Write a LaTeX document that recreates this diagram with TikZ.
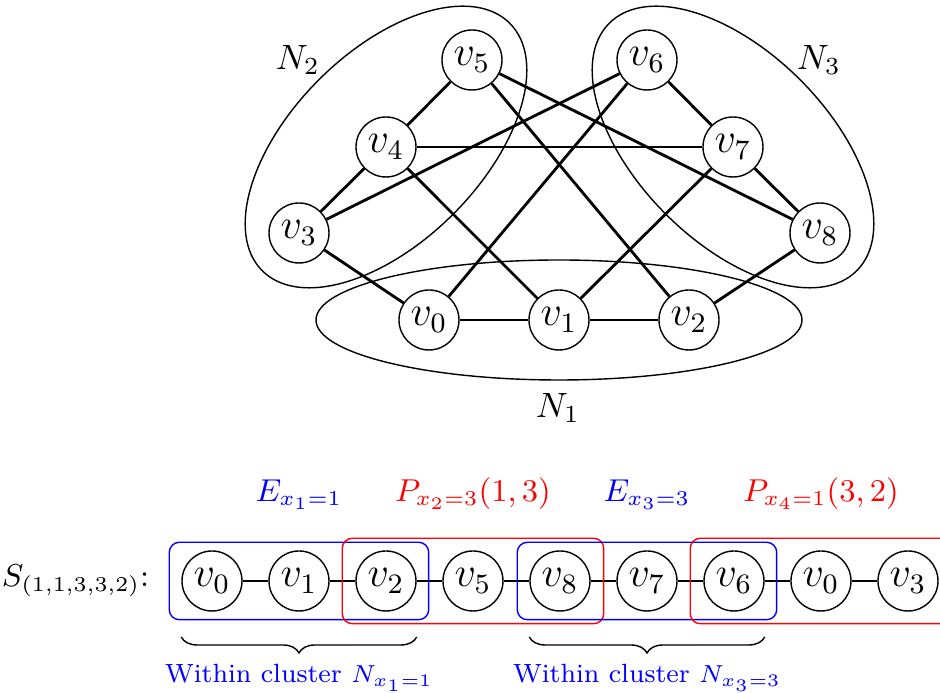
\documentclass[tikz,border=0pt]{standalone}
\usepackage{xcolor}
\usepackage{tikz}
\usetikzlibrary{positioning,fit,calc,decorations.pathreplacing}

\begin{document}
\begin{tikzpicture}[x=1cm,y=1cm,
  vtx/.style={circle,draw,minimum size=0.6cm,inner sep=0pt,font=\large},
  edge/.style={thick},
  ebox/.style={draw=blue,rounded corners=1mm,inner xsep=0.12cm,inner ysep=0.08cm},
  pbox/.style={draw=red,rounded corners=1mm,inner xsep=0.13cm,inner ysep=0.12cm},
  lbl/.style={anchor=base,font=\fontsize{9}{11}\selectfont},
  within/.style={anchor=base,text=blue,font=\fontsize{7.5}{9}\selectfont}]
\useasboundingbox (0,0) rectangle (9.4,6.93);
\clip (0,0) rectangle (9.4,6.93);

\node[vtx] (v0) at (4.29,3.73) {$v_0$};
\node[vtx] (v1) at (5.59,3.73) {$v_1$};
\node[vtx] (v2) at (6.89,3.73) {$v_2$};
\node[vtx] (v3) at (2.99,4.60) {$v_3$};
\node[vtx] (v4) at (3.86,5.46) {$v_4$};
\node[vtx] (v5) at (4.72,6.33) {$v_5$};
\node[vtx] (v6) at (6.47,6.33) {$v_6$};
\node[vtx] (v7) at (7.33,5.46) {$v_7$};
\node[vtx] (v8) at (8.20,4.60) {$v_8$};
\foreach \a/\b in {5/4,4/3,3/0,0/1,1/2,2/8,8/7,7/6,4/7,4/1,5/2,5/8,3/6,0/6,1/7}
  \draw[edge] (v\a) -- (v\b);

\draw (v1.center) ellipse (2.43 and 0.60);
\draw[rotate around={45:(v4)}] (v4.center) ellipse (1.75 and 0.95);
\draw[rotate around={-45:(v7)}] (v7.center) ellipse (1.75 and 0.95);
\node (n1) at (5.58,2.85) {$N_1$};
\node (n2) at (2.98,6.33) {$N_2$};
\node (n3) at (8.19,6.33) {$N_3$};

\foreach \v [count=\i from 0] in {0,1,2,5,8,7,6,0,3}
  \node[vtx] (s\i) at (2.12+0.87*\i,1.12) {$v_{\v}$};
\foreach \i [evaluate=\i as \j using int(\i+1)] in {0,...,7}
  \draw[edge] (s\i) -- (s\j);
\node[lbl,anchor=base east,inner sep=0pt] (seq) at (1.50,1.06) {$S_{(1,1,3,3,2)}$:};

\node[ebox,fit=(s0)(s2)] (e1) {};
\node[pbox,fit=(s2)(s4)] (p1) {};
\node[ebox,fit=(s4)(s6)] (e2) {};
\node[pbox,fit=(s6)(s8)] (p2) {};

\coordinate (lrow) at (0,1.91);
\coordinate (brow) at (0,0.56);
\coordinate (wrow) at (0,0.10);
\node[lbl,text=blue] (le1) at (s1 |- lrow) {$E_{x_1=1}$};
\node[lbl,text=red] (lp1) at (s3 |- lrow) {$P_{x_2=3}(1,3)$};
\node[lbl,text=blue] (le2) at (s5 |- lrow) {$E_{x_3=3}$};
\node[lbl,text=red] (lp2) at (s7 |- lrow) {$P_{x_4=1}(3,2)$};

\draw[decorate,decoration={brace,mirror,amplitude=0.16cm}] (s0.west |- brow) -- (s2.east |- brow);
\draw[decorate,decoration={brace,mirror,amplitude=0.16cm}] (s4.west |- brow) -- (s6.east |- brow);
\node[within] (w1) at (s1 |- wrow) {Within cluster $N_{x_1=1}$};
\node[within] (w2) at (s5 |- wrow) {Within cluster $N_{x_3=3}$};
\end{tikzpicture}
\end{document}
